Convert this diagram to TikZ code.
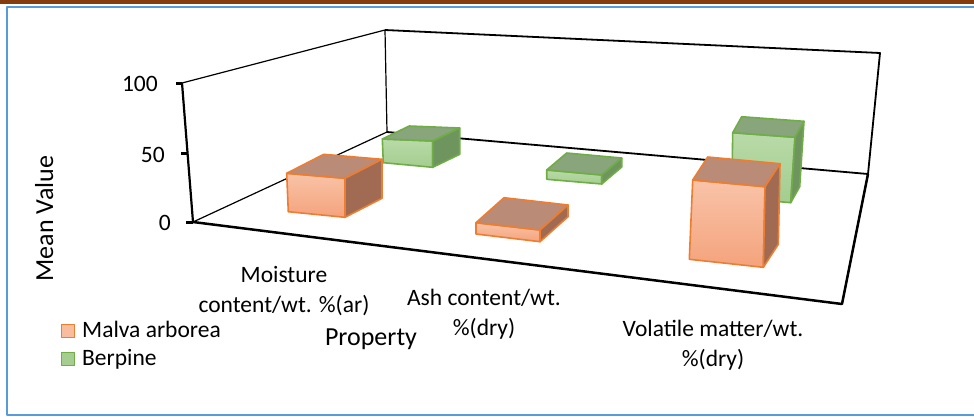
\documentclass[tikz,border=0pt]{standalone}
\usepackage{fontspec}
\setmainfont{Carlito}
\usetikzlibrary{calc}

\definecolor{nau}{HTML}{843C0C}
\definecolor{khung}{HTML}{5B9BD5}
% cam: Malva arborea, xanh: Berpine
\definecolor{camA}{HTML}{F9C3A8}
\definecolor{camB}{HTML}{F4A37C}
\definecolor{camT}{HTML}{BA8B77}
\definecolor{camS}{HTML}{A06B52}
\definecolor{camV}{HTML}{ED7D31}
\definecolor{xanhA}{HTML}{B9DAA8}
\definecolor{xanhB}{HTML}{A4CD8F}
\definecolor{xanhT}{HTML}{88A57C}
\definecolor{xanhS}{HTML}{6F955F}
\definecolor{xanhV}{HTML}{70AD47}

% khối hộp: #1 màu, #2..#5 mặt trước (TL, TR, BR, BL), #6 độ sâu
\newcommand{\hop}[6]{%
  \shadedraw[top color=#1A, bottom color=#1B, draw=#1V, line width=1.6pt] #2 -- #3 -- #4 -- #5 -- cycle;
  \filldraw[fill=#1T, draw=#1V, line width=1.6pt] #2 -- #3 -- ($#3+#6$) -- ($#2+#6$) -- cycle;
  \filldraw[fill=#1S, draw=#1V, line width=1.6pt] #3 -- #4 -- ($#4+#6$) -- ($#3+#6$) -- cycle;
}

\begin{document}
\begin{tikzpicture}[x=1pt, y=-1pt, line join=round,
    nhan/.style={font=\fontsize{23.5}{30}\selectfont, inner sep=0pt},
    tieude/.style={font=\fontsize{26}{30}\selectfont, inner sep=0pt}]
  \useasboundingbox (0,0) rectangle (974,416);

  % Viền trang
  \fill[nau] (0,0) rectangle (974,3.5);
  \draw[khung, line width=2pt] (990,6.5) -- (7,6.5) -- (7,415) -- (990,415);

  % Các góc của hình hộp
  \coordinate (A) at (182,83);   % tường trái, trên
  \coordinate (B) at (385,30);   % góc sau, trên
  \coordinate (C) at (880,53);   % góc phải, trên
  \coordinate (D) at (193,222);  % sàn, trước trái
  \coordinate (E) at (387,132);  % sàn, sau trái
  \coordinate (F) at (868,174);  % sàn, sau phải
  \coordinate (G) at (842,304);  % sàn, trước phải

  % Tường và sàn
  \draw[line width=1.2pt] (A) -- (B) -- (E) -- (D);
  \draw[line width=1.8pt] (B) -- (C) -- (F) -- (E);
  \draw[line width=2.5pt] (D) -- (G) -- (F);

  % Trục tung và vạch chia
  \draw[line width=2.2pt] (A) -- (D);
  \draw[line width=3pt] (176,83) -- (A);
  \draw[line width=3pt] (181,153) -- (187.5,153);
  \draw[line width=3pt] (186,222) -- (D);
  \node[nhan, anchor=east] (n100) at (158,84) {100};
  \node[nhan, anchor=east] (n50) at (165,155) {50};
  \node[nhan, anchor=east] (n0) at (171,223) {0};
  \node[tieude, rotate=90, anchor=base] (mv) at (53,218.5) {Mean Value};

  % Dãy sau: Berpine
  \hop{xanh}{(382.3,139)}{(432.7,141)}{(432.7,167.3)}{(383.3,162.7)}{(27,-13)}
  \hop{xanh}{(546.7,170)}{(601.7,175)}{(601.7,184)}{(546.7,179.3)}{(20,-17)}
  \hop{xanh}{(732.7,132.7)}{(795,137.3)}{(790.7,202.7)}{(731.7,197.3)}{(9,-16)}

  % Dãy trước: Malva arborea
  \hop{cam}{(286.7,173.3)}{(345,178.3)}{(345,217.3)}{(288.3,211.7)}{(37,-19)}
  \hop{cam}{(476,222.7)}{(540,230)}{(540,241.7)}{(476,234)}{(28,-25)}
  \hop{cam}{(692.7,180)}{(765,186.7)}{(763.3,267.3)}{(689.3,259.3)}{(15,-23)}

  % Nhãn trục hoành
  \node[nhan, align=center, anchor=north] (m1) at (284,266) {Moisture\\content/wt. \%(ar)};
  \node[nhan, align=center, anchor=north] (m2) at (484,289) {Ash content/wt.\\\%(dry)};
  \node[nhan, align=center, anchor=north] (m3) at (713,320) {Volatile matter/wt.\\\%(dry)};
  \node[tieude, anchor=base] (pr) at (371,345) {Property};

  % Chú thích
  \node[draw=camV, fill=camA!80!camB, line width=1pt, minimum size=13pt, inner sep=0pt] (oCam) at (68,331) {};
  \node[nhan, anchor=base west] (tCam) at (82,337) {Malva arborea};
  \node[draw=xanhV, fill=xanhB, line width=1pt, minimum size=13pt, inner sep=0pt] (oXanh) at (68,359) {};
  \node[nhan, anchor=base west] (tXanh) at (82,365) {Berpine};
\end{tikzpicture}
\end{document}
